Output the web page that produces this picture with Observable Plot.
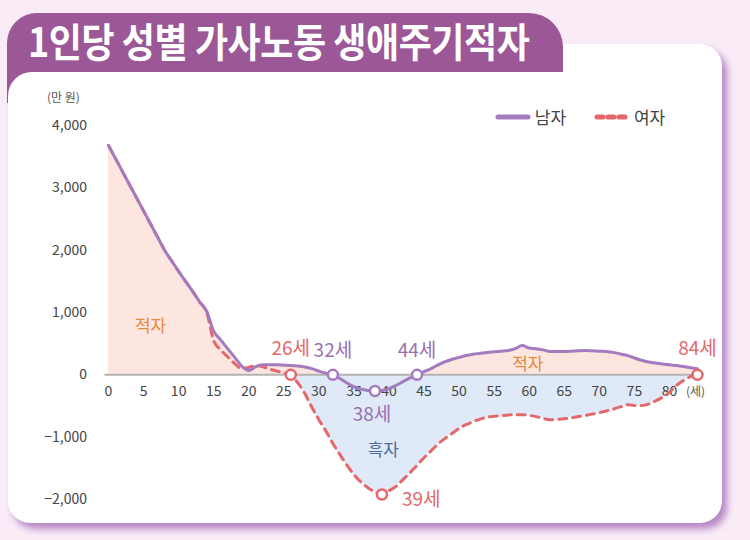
<!DOCTYPE html>
<html>
<head>
<meta charset="utf-8">
<script src="https://cdn.jsdelivr.net/npm/d3@7"></script>
<script src="https://cdn.jsdelivr.net/npm/@observablehq/plot@0.6"></script>
<style>
  html, body { margin: 0; padding: 0; }
  body { width: 750px; height: 540px; position: relative; overflow: hidden;
         background: #f9ecf7; font-family: "Noto Sans CJK KR", "Noto Sans", sans-serif; }
  #card { position: absolute; left: 8px; top: 44px; width: 714px; height: 479px; background: #fff;
          border-radius: 22px; box-shadow: 5px 6px 7px rgba(160, 100, 180, 0.75); }
  #tab { position: absolute; left: 7px; top: 13px; width: 556px; height: 90px; background: #9b5796;
         border-radius: 30px 34px 0 0; }
  #inner { position: absolute; left: 8px; top: 72px; width: 556px; height: 60px; background: #fff;
           border-radius: 24px 0 0 0; }
  #title { position: absolute; left: 28px; top: 11px; color: #fff; font-size: 40px; font-weight: 700;
           letter-spacing: -0.5px; transform: scaleX(0.9); transform-origin: left center; white-space: nowrap; }
  #unit { position: absolute; left: 47px; top: 88px; font-size: 12px; color: #555; }
  #legend { position: absolute; left: 495px; top: 104px; font-size: 17px; color: #444; display: flex; align-items: center; }
  #legend span { margin-right: 28px; display: flex; align-items: center; }
  #chart { position: absolute; left: 0; top: 0; }
</style>
</head>
<body>
<div id="card"></div>
<div id="tab"></div>
<div id="inner"></div>
<div id="title">1인당 성별 가사노동 생애주기적자</div>
<div id="unit">(만 원)</div>
<div id="legend"></div>
<div id="chart"></div>
<script>
// ---- data ----
const ages = [0,1,2,3,4,5,6,7,8,9,10,11,12,13,14,15,16,17,18,19,20,21,22,23,24,25,26,27,28,29,30,31,32,33,34,35,36,37,38,39,40,41,42,43,44,45,46,47,48,49,50,51,52,53,54,55,56,57,58,59,60,61,62,63,64,65,66,67,68,69,70,71,72,73,74,75,76,77,78,79,80,81,82,83,84];
const male = [3680,3470,3260,3050,2840,2630,2420,2210,2000,1830,1660,1500,1340,1170,1020,700,560,420,280,140,70,130,160,160,160,155,150,140,125,100,60,25,0,-60,-130,-190,-230,-250,-260,-250,-220,-170,-110,-50,0,50,100,160,210,250,280,310,330,345,360,370,380,390,420,470,430,420,400,375,375,375,380,385,390,385,380,375,360,335,310,270,235,205,190,175,160,150,135,115,96];
const female = [3680,3470,3260,3050,2840,2630,2420,2210,2000,1830,1660,1500,1340,1170,1000,550,400,290,180,100,120,150,130,90,60,30,0,-130,-300,-520,-720,-900,-1100,-1280,-1450,-1600,-1720,-1810,-1880,-1920,-1860,-1790,-1680,-1570,-1450,-1330,-1220,-1110,-1020,-940,-860,-800,-750,-710,-680,-665,-655,-645,-640,-640,-650,-670,-700,-720,-715,-705,-690,-670,-650,-630,-605,-580,-550,-515,-480,-490,-490,-470,-420,-360,-280,-170,-90,-30,0];
const xTicks = [0,5,10,15,20,25,30,35,40,45,50,55,60,65,70,75,80];
const yTicks = [-2000,-1000,0,1000,2000,3000,4000];
const xUnit = "(세)";
const seriesNames = ["남자", "여자"];
const maleMarks = [32, 38, 44];      // ages marked on the male line
const femaleMarks = [26, 39, 84];    // ages marked on the female line
const regionLabels = [
  {text: "적자", age: 6, value: 770, kind: "deficit"},
  {text: "적자", age: 59.8, value: 160, kind: "deficit"},
  {text: "흑자", age: 39.2, value: -1220, kind: "surplus"}
];

// ---- colours ----
const cMale = "#a57bbf", cFemale = "#e4676a", cPink = "#fde6df", cBlue = "#dfe9f8";

const rows = ages.map((a, i) => ({age: a, m: male[i], f: female[i]}));
const mk = (list, key) => list.map(a => ({age: a, v: rows[a][key], label: a + "세"}));
const mPts = mk(maleMarks, "m"), fPts = mk(femaleMarks, "f");

const plot = Plot.plot({
  width: 750, height: 540,
  marginLeft: 104.5, marginRight: 49.5, marginTop: 125, marginBottom: 41,
  style: {background: "transparent", fontFamily: "'Noto Sans CJK KR', 'Noto Sans', sans-serif", fontSize: "14px", color: "#444", overflow: "visible"},
  x: {domain: [-0.5, 84.5], axis: null},
  y: {domain: [-2000, 4000]},
  marks: [
    Plot.areaY(rows, {x: "age", y1: 0, y2: d => Math.max(d.m, d.f, 0), fill: cPink, curve: "monotone-x"}),
    Plot.areaY(rows, {x: "age", y1: 0, y2: d => Math.min(d.f, 0), fill: cBlue, curve: "monotone-x"}),
    Plot.ruleY([0], {stroke: "#b3b3b3", strokeWidth: 2}),
    Plot.axisY({ticks: yTicks, tickSize: 0, tickPadding: 18, tickFormat: d3.format(","), fontSize: 14, fill: "#444"}),
    Plot.text(xTicks, {x: d => d, y: 0, dy: 17, text: d => String(d), fontSize: 14, fill: "#444"}),
    Plot.text([xUnit], {x: ages[ages.length - 1], y: 0, dy: 17, dx: -2, text: d => d, fontSize: 12, fill: "#555"}),
    Plot.line(rows, {x: "age", y: "f", stroke: cFemale, strokeWidth: 3, strokeDasharray: "8,6", curve: "monotone-x"}),
    Plot.line(rows, {x: "age", y: "m", stroke: cMale, strokeWidth: 3, curve: "monotone-x"}),
    Plot.dot(mPts, {x: "age", y: "v", r: 5, fill: "white", stroke: cMale, strokeWidth: 2.5}),
    Plot.dot(fPts, {x: "age", y: "v", r: 5, fill: "white", stroke: cFemale, strokeWidth: 2.5}),
    // point labels
    Plot.text(mPts.filter(d => d.v >= 0), {x: "age", y: "v", text: "label", dy: -24, fontSize: 19, fill: "#9a70b3"}),
    Plot.text(mPts.filter(d => d.v < 0), {x: "age", y: "v", text: "label", dy: 24, dx: -3, fontSize: 19, fill: "#9a70b3"}),
    Plot.text(fPts.filter(d => d.v >= 0), {x: "age", y: "v", text: "label", dy: -26, fontSize: 19, fill: cFemale}),
    Plot.text(fPts.filter(d => d.v < 0), {x: "age", y: "v", text: "label", dx: 20, dy: 5, textAnchor: "start", fontSize: 19, fill: cFemale}),
    Plot.text(regionLabels, {x: "age", y: "value", text: "text", fontSize: 17, fill: d => d.kind === "deficit" ? "#e8883f" : "#4b6c9c"})
  ]
});
document.getElementById("chart").appendChild(plot);

// legend
const lg = document.getElementById("legend");
lg.innerHTML =
  `<span><svg width="36" height="10"><line x1="3" y1="5" x2="33" y2="5" stroke="${cMale}" stroke-width="5" stroke-linecap="round"/></svg>&nbsp;${seriesNames[0]}</span>` +
  `<span><svg width="36" height="10"><line x1="3" y1="5" x2="33" y2="5" stroke="${cFemale}" stroke-width="5" stroke-linecap="round" stroke-dasharray="6,5"/></svg>&nbsp;${seriesNames[1]}</span>`;
</script>
</body>
</html>
